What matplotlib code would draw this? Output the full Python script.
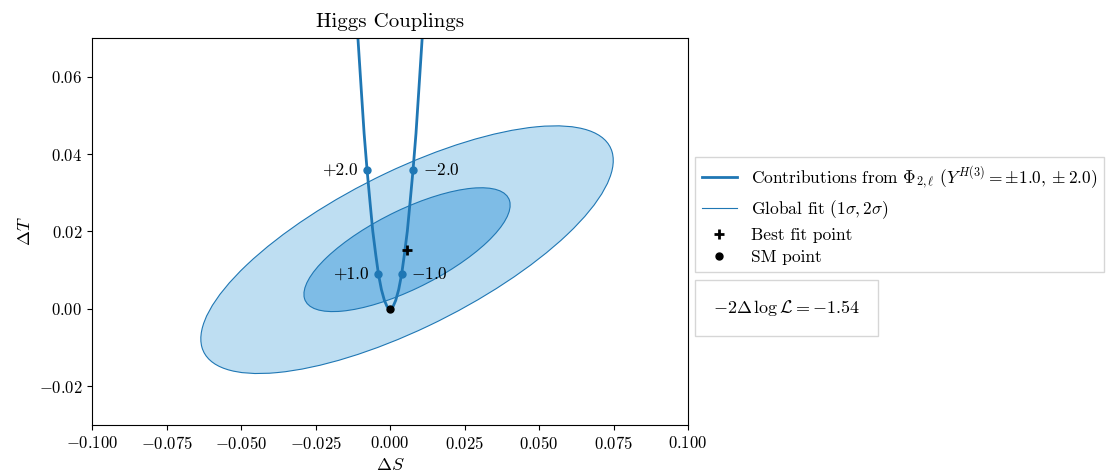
import numpy as np
import matplotlib
matplotlib.use('Agg')
import matplotlib.pyplot as plt
from matplotlib.patches import Ellipse
from matplotlib.lines import Line2D

plt.rcParams['font.family'] = 'serif'
plt.rcParams['font.serif'] = ['cmr10']
plt.rcParams['mathtext.fontset'] = 'cm'
plt.rcParams['axes.formatter.use_mathtext'] = True
plt.rcParams['font.size'] = 12

# Global fit (best fit + gaussian errors)
best_S, best_T = 0.0057, 0.0153
sig_S, sig_T, rho = 0.0346, 0.0160, 0.72
chi2_levels = [4.0, 1.0]  # 2 sigma, 1 sigma
fill_colors = ['#bedef2', '#7ebce6']

# Contribution curve from Phi_{2,l}
Y = [-2.8, -2.5, -2.25, -2.0, -1.75, -1.5, -1.25, -1.0, -0.75, -0.5, -0.25, 0.0,
     0.25, 0.5, 0.75, 1.0, 1.25, 1.5, 1.75, 2.0, 2.25, 2.5, 2.8]
dS = [0.0108, 0.0096, 0.0087, 0.0077, 0.0067, 0.0058, 0.0048, 0.0039, 0.0029, 0.0019, 0.0010, 0.0,
      -0.0010, -0.0019, -0.0029, -0.0039, -0.0048, -0.0058, -0.0067, -0.0077, -0.0087, -0.0096, -0.0108]
dT = [0.0702, 0.0559, 0.0453, 0.0358, 0.0274, 0.0201, 0.0140, 0.0090, 0.0050, 0.0022, 0.0006, 0.0,
      0.0006, 0.0022, 0.0050, 0.0090, 0.0140, 0.0201, 0.0274, 0.0358, 0.0453, 0.0559, 0.0702]
marked_Y = [1.0, 2.0, -1.0, -2.0]
marked_labels = ['+1.0', '+2.0', '$-$1.0', '$-$2.0']

sm_S, sm_T = 0.0, 0.0
loglike = -1.54

fig = plt.figure(figsize=(11.13, 4.75), dpi=100)
ax = fig.add_axes([0.0827, 0.1053, 0.5355, 0.8147])

cov = np.array([[sig_S**2, rho*sig_S*sig_T], [rho*sig_S*sig_T, sig_T**2]])
vals, vecs = np.linalg.eigh(cov)
angle = np.degrees(np.arctan2(vecs[1, 1], vecs[0, 1]))
for lev, col in zip(chi2_levels, fill_colors):
    w = 2*np.sqrt(lev*vals[1])
    h = 2*np.sqrt(lev*vals[0])
    ax.add_patch(Ellipse((best_S, best_T), w, h, angle=angle, facecolor=col,
                         edgecolor='#1f77b4', lw=0.8))

ax.plot(dS, dT, color='#1f77b4', lw=2)
for yv, lab in zip(marked_Y, marked_labels):
    i = Y.index(yv)
    ax.plot(dS[i], dT[i], 'o', color='#1f77b4', ms=5)
    if yv > 0:
        ax.annotate(lab, (dS[i], dT[i]), xytext=(-7, 0), textcoords='offset points',
                    ha='right', va='center', fontsize=12.5)
    else:
        ax.annotate(lab, (dS[i], dT[i]), xytext=(7, 0), textcoords='offset points',
                    ha='left', va='center', fontsize=12.5)

ax.plot(best_S, best_T, '+', color='black', ms=7, mew=2)
ax.plot(sm_S, sm_T, 'o', color='black', ms=5)

ax.set_xlim(-0.1, 0.1)
ax.set_ylim(-0.03, 0.07)
ax.set_xlabel(r'$\Delta S$', fontsize=13)
ax.set_ylabel(r'$\Delta T$', fontsize=13)
ax.set_title('Higgs Couplings', fontsize=15, pad=8)

handles = [Line2D([], [], color='#1f77b4', lw=2),
           Line2D([], [], color='#1f77b4', lw=0.8),
           Line2D([], [], marker='+', color='black', ls='none', ms=7, mew=2),
           Line2D([], [], marker='o', color='black', ls='none', ms=5)]
labels = [r'Contributions from $\Phi_{2,\ell}$ ($Y^{H(3)}=\pm1.0,\pm2.0$)',
          r'Global fit $(1\sigma,2\sigma)$', 'Best fit point', 'SM point']
fig.legend(handles, labels, loc='upper left', bbox_to_anchor=(0.6244, 0.6695),
           fancybox=False, fontsize=12.5, borderaxespad=0, labelspacing=0.4)
fig.legend([Line2D([], [], ls='none')], [r'$-2\Delta\,\log\mathcal{L} = %.2f$' % loglike],
           loc='upper left', bbox_to_anchor=(0.6244, 0.4105), fancybox=False,
           handlelength=0, handletextpad=0, borderpad=1.0, borderaxespad=0, fontsize=13)

fig.savefig('out.png', dpi=100)
